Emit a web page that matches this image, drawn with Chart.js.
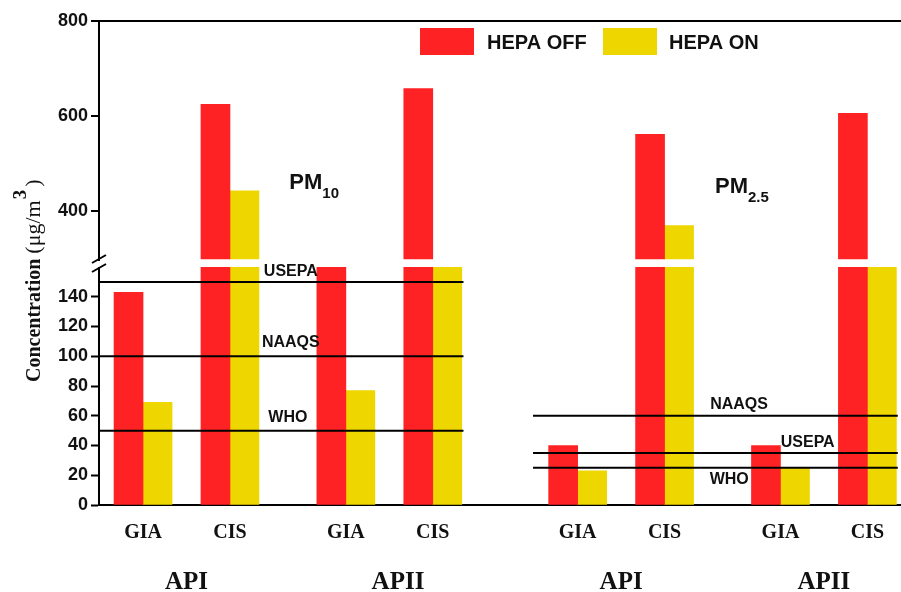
<!DOCTYPE html>
<html>
<head>
<meta charset="utf-8">
<script src="https://cdn.jsdelivr.net/npm/chart.js@4/dist/chart.umd.min.js"></script>
<style>
  body { margin: 0; background: #fff; }
  #wrap { width: 901px; height: 592px; }
</style>
</head>
<body>
<div id="wrap"><canvas id="myChart" width="901" height="592"></canvas></div>
<script>
// categories
const sites = ['GIA', 'CIS', 'GIA', 'CIS', 'GIA', 'CIS', 'GIA', 'CIS'];
const sitePos = [0, 3, 7, 10, 15, 18, 22, 25];
const groups = ['API', 'APII', 'API', 'APII'];
const groupPos = [1.5, 8.8, 16.5, 23.5];

// series (first 4 = PM10, last 4 = PM2.5)
const hepaOff = [143, 625, 220, 658, 40, 562, 40, 606];
const hepaOn = [69, 443, 77, 220, 23, 370, 25, 220];

// tick labels
const lowTicks = [0, 20, 40, 60, 80, 100, 120, 140];
const highTicks = [400, 600, 800];

// guideline values
const pm10Names = ['USEPA', 'NAAQS', 'WHO'];
const pm10Limits = [150, 100, 50];
const pm25Names = ['NAAQS', 'USEPA', 'WHO'];
const pm25Limits = [60, 35, 25];

const RED = '#ff2224';
const YEL = '#eed600';
const SANS = "'Liberation Sans', Arial, sans-serif";
const SERIF = "'Liberation Serif', 'Times New Roman', serif";
const LOW_MAX = 160;
const HIGH_MIN = 300;
const X_MIN = -1.52, X_MAX = 26.16;
const pm10Span = [X_MIN, 11.06];
const pm25Span = [13.46, 26.05];

function lowPart(vals) {
  return vals.map((v, i) => ({x: sitePos[i], y: Math.min(v, LOW_MAX)}));
}
function highPart(vals) {
  return vals.map((v, i) => ({x: sitePos[i], y: v > HIGH_MIN ? [HIGH_MIN, v] : null}));
}
function limitLine(v, span, name) {
  return {
    type: 'line', label: name, yAxisID: 'y', xAxisID: 'x', order: 0,
    data: [{x: span[0], y: v}, {x: span[1], y: v}],
    borderColor: '#000', borderWidth: 2, pointRadius: 0, fill: false
  };
}

const barCommon = {type: 'bar', xAxisID: 'x', barThickness: 29, borderWidth: 0, order: 2};

const datasets = [
  Object.assign({label: 'HEPA OFF', data: lowPart(hepaOff), backgroundColor: RED, stack: 'off', yAxisID: 'y'}, barCommon),
  Object.assign({label: 'HEPA ON', data: lowPart(hepaOn), backgroundColor: YEL, stack: 'on', yAxisID: 'y'}, barCommon),
  Object.assign({label: 'HEPA OFF', data: highPart(hepaOff), backgroundColor: RED, stack: 'off', yAxisID: 'y2'}, barCommon),
  Object.assign({label: 'HEPA ON', data: highPart(hepaOn), backgroundColor: YEL, stack: 'on', yAxisID: 'y2'}, barCommon)
];
pm10Limits.forEach((v, i) => datasets.push(limitLine(v, pm10Span, pm10Names[i])));
pm25Limits.forEach((v, i) => datasets.push(limitLine(v, pm25Span, pm25Names[i])));

// label placement for guidelines (x in data units, y offset in px)
const pm10LabelX = [5.1, 5.1, 5.0];
const pm10LabelDy = [-10, -14, -13];
const pm25LabelX = [20.57, 22.94, 20.23];
const pm25LabelDy = [-11, -10, 12];

const annot = {
  id: 'annot',
  afterDraw(chart) {
    const c = chart.ctx;
    const sx = chart.scales.x, sy = chart.scales.y, sy2 = chart.scales.y2;
    c.save();

    // axis break
    const ax = sx.left;
    c.fillStyle = '#fff';
    c.fillRect(ax - 4, 261, 8, 6);
    c.strokeStyle = '#000';
    c.lineWidth = 2;
    c.beginPath();
    c.moveTo(ax - 7, 263); c.lineTo(ax + 7, 255);
    c.moveTo(ax - 7, 272); c.lineTo(ax + 7, 264);
    c.stroke();

    // guideline labels
    c.fillStyle = '#111';
    c.font = 'bold 16px ' + SANS;
    c.textAlign = 'center';
    c.textBaseline = 'middle';
    pm10Limits.forEach((v, i) => {
      c.fillText(pm10Names[i], sx.getPixelForValue(pm10LabelX[i]), sy.getPixelForValue(v) + pm10LabelDy[i]);
    });
    pm25Limits.forEach((v, i) => {
      c.fillText(pm25Names[i], sx.getPixelForValue(pm25LabelX[i]), sy.getPixelForValue(v) + pm25LabelDy[i]);
    });

    // PM labels
    c.textAlign = 'left';
    c.textBaseline = 'alphabetic';
    function pm(x, y, sub) {
      c.font = 'bold 22px ' + SANS;
      c.fillText('PM', x, y);
      const w = c.measureText('PM').width;
      c.font = 'bold 15px ' + SANS;
      c.fillText(sub, x + w, y + 9);
    }
    pm(sx.getPixelForValue(5.05), sy2.getPixelForValue(446), '10');
    pm(sx.getPixelForValue(19.74), sy2.getPixelForValue(439), '2.5');

    // legend
    const items = [[chart.data.datasets[0], 420, 487], [chart.data.datasets[1], 603, 669]];
    items.forEach(([ds, bx, tx]) => {
      c.fillStyle = ds.backgroundColor;
      c.fillRect(bx, 28, 54, 27);
      c.fillStyle = '#111';
      c.font = 'bold 20px ' + SANS;
      c.textBaseline = 'middle';
      c.fillText(ds.label, tx, 43);
    });

    // y title
    c.translate(40, 382);
    c.rotate(-Math.PI / 2);
    c.textBaseline = 'alphabetic';
    c.fillStyle = '#111';
    let x = 0;
    c.font = 'bold 20px ' + SERIF;
    c.fillText('Concentration ', x, 0);
    x += c.measureText('Concentration ').width;
    c.font = '22px ' + SERIF;
    c.fillText('(\u03bcg/m', x, 0);
    x += c.measureText('(\u03bcg/m').width;
    c.font = 'bold 19px ' + SERIF;
    c.fillText('3', x + 1, -14);
    x += c.measureText('3').width + 4;
    c.font = '22px ' + SERIF;
    c.fillText(')', x, 0);
    c.restore();
  }
};

const ctx = document.getElementById('myChart');

const config = {
  type: 'bar',
  data: {datasets: datasets},
  options: {
    responsive: false,
    animation: false,
    devicePixelRatio: 1,
    layout: {padding: {top: 21, left: 0, right: 0, bottom: 0}},
    plugins: {legend: {display: false}, tooltip: {enabled: false}},
    scales: {
      x: {
        type: 'linear', position: 'bottom', weight: 0, min: X_MIN, max: X_MAX, offset: false,
        grid: {display: false, drawTicks: false, offset: false},
        border: {display: true, color: '#000', width: 2},
        afterBuildTicks: (a) => { a.ticks = sitePos.map(v => ({value: v})); },
        ticks: {
          autoSkip: false, maxRotation: 0, padding: 16, color: '#111',
          font: {family: SERIF, size: 20, weight: 'bold'},
          callback: (v, i) => sites[i]
        },
        afterFit: (a) => { a.height = 50; }
      },
      x2: {
        type: 'linear', position: 'bottom', weight: 1, min: X_MIN, max: X_MAX, offset: false,
        grid: {display: false, drawTicks: false, offset: false},
        border: {display: false},
        afterBuildTicks: (a) => { a.ticks = groupPos.map(v => ({value: v})); },
        ticks: {
          autoSkip: false, maxRotation: 0, padding: 13, color: '#111',
          font: {family: SERIF, size: 25, weight: 'bold'},
          callback: (v, i) => groups[i]
        },
        afterFit: (a) => { a.height = 37; }
      },
      y: {
        type: 'linear', position: 'left', stack: 'left', stackWeight: 238, weight: 0,
        min: 0, max: LOW_MAX, stacked: false,
        afterBuildTicks: (a) => { a.ticks = lowTicks.map(v => ({value: v})); },
        grid: {drawOnChartArea: false, tickLength: 8, tickWidth: 2, tickColor: '#000'},
        border: {color: '#000', width: 2},
        ticks: {autoSkip: false, padding: 3, color: '#111', font: {family: SANS, size: 18, weight: 'bold'}},
        afterFit: (a) => { a.width = 99; }
      },
      y2: {
        type: 'linear', position: 'left', stack: 'left', stackWeight: 246, weight: 1,
        min: 283, max: 800, stacked: false,
        afterBuildTicks: (a) => { a.ticks = highTicks.map(v => ({value: v})); },
        grid: {
          color: (g) => (g.tick && g.tick.value === 800 ? '#000' : 'rgba(0,0,0,0)'),
          lineWidth: 2, tickLength: 8, tickWidth: 2, tickColor: '#000'
        },
        border: {color: '#000', width: 2},
        ticks: {autoSkip: false, padding: 3, color: '#111', font: {family: SANS, size: 18, weight: 'bold'}},
        afterFit: (a) => { a.width = 99; }
      }
    }
  },
  plugins: [annot]
};

let chart = new Chart(ctx, config);
</script>
</body>
</html>
